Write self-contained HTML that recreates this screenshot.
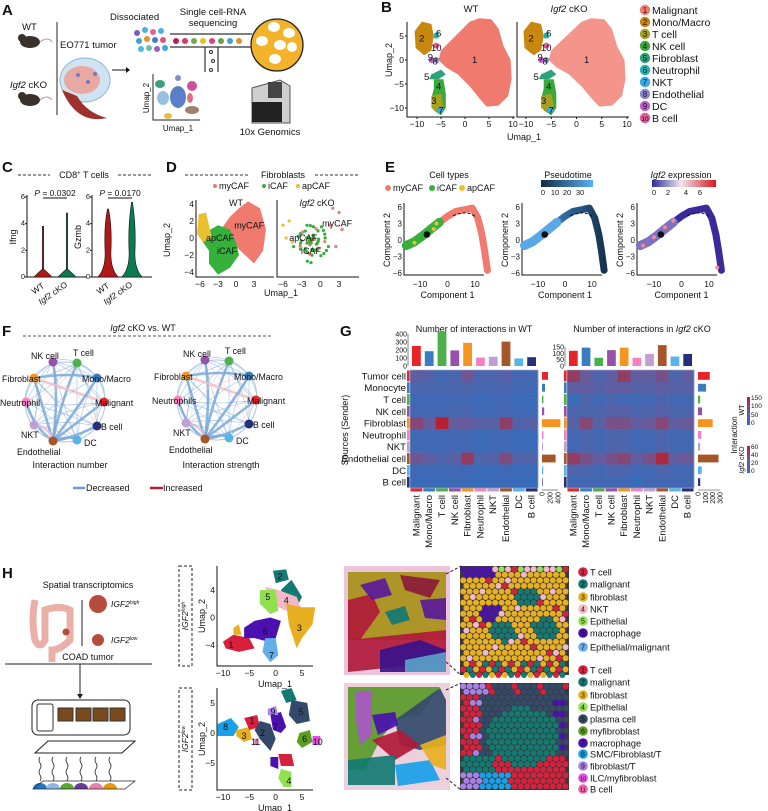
<!DOCTYPE html>
<html><head><meta charset="utf-8"><style>
html,body{margin:0;padding:0;background:#fff;}
svg{display:block;font-family:"Liberation Sans",Arial,sans-serif;}
text{fill:#111;}
</style></head><body>
<svg id="fig" width="768" height="811" viewBox="0 0 768 811">
<defs>
<linearGradient id="gPseudo" x1="0" x2="1"><stop offset="0" stop-color="#132b43"/><stop offset="1" stop-color="#56b1f7"/></linearGradient>
<linearGradient id="gExpr" x1="0" x2="1"><stop offset="0" stop-color="#2b2c9c"/><stop offset="0.45" stop-color="#f0e6ee"/><stop offset="1" stop-color="#d7191c"/></linearGradient>
<linearGradient id="gTraj2" x1="0" x2="1"><stop offset="0" stop-color="#5aa8e8"/><stop offset="0.5" stop-color="#2f6aa0"/><stop offset="1" stop-color="#16324e"/></linearGradient>
<linearGradient id="gHeatWT" x1="0" y1="1" x2="0" y2="0"><stop offset="0" stop-color="#2f6fbf"/><stop offset="0.5" stop-color="#6a5a9a"/><stop offset="1" stop-color="#b8202e"/></linearGradient>
</defs>

<!-- ============ PANEL A ============ -->
<g>
<text x="2" y="15" font-size="15" font-weight="bold">A</text>
<text x="22" y="30" font-size="9.5">WT</text>
<g><ellipse cx="30" cy="42" rx="10" ry="6" fill="#3a302c"/><circle cx="22" cy="38" r="4" fill="#3a302c"/><path d="M40 42 q8 -6 12 0" stroke="#c88" fill="none"/></g>
<text x="10" y="88" font-size="9.5"><tspan font-style="italic">Igf2</tspan> cKO</text>
<g><ellipse cx="30" cy="100" rx="10" ry="6" fill="#3a302c"/><circle cx="22" cy="96" r="4" fill="#3a302c"/><path d="M40 100 q8 -6 12 0" stroke="#c88" fill="none"/></g>
<line x1="57" y1="22" x2="57" y2="115" stroke="#222" stroke-width="1"/>
<text x="60" y="48" font-size="9.5">EO771 tumor</text>
<g>
<ellipse cx="85" cy="80" rx="25" ry="22" fill="#cfe3f0" stroke="#8fb8d8"/>
<ellipse cx="82" cy="80" rx="18" ry="14" fill="#e9a9a2"/>
<path d="M62 90 q15 35 45 28 q-20 -5 -30 -22z" fill="#a0302c"/>
<circle cx="78" cy="75" r="2" fill="#6a7ec8"/><circle cx="88" cy="82" r="2" fill="#6a7ec8"/><circle cx="95" cy="74" r="2" fill="#6a7ec8"/>
</g>
<path d="M112 70 H126" stroke="#111"/><path d="M126 67 L130 70 L126 73z" fill="#111"/>
<text x="110" y="20" font-size="9.5">Dissociated</text>
<g>
<circle cx="137" cy="33" r="3" fill="#7a5ac8"/><circle cx="145" cy="30" r="3" fill="#4ab0e0"/><circle cx="153" cy="32" r="3" fill="#e060a0"/><circle cx="161" cy="31" r="3" fill="#4ab0e0"/>
<circle cx="139" cy="41" r="3" fill="#40a0d0"/><circle cx="147" cy="39" r="3" fill="#f08a30"/><circle cx="155" cy="40" r="3" fill="#3d7fc0"/><circle cx="163" cy="40" r="3" fill="#e05080"/>
<circle cx="141" cy="49" r="3" fill="#50b8e8"/><circle cx="149" cy="48" r="3" fill="#6ac0a0"/><circle cx="157" cy="49" r="3" fill="#9a60c0"/><circle cx="165" cy="48" r="3" fill="#40a8d8"/>
</g>
<text x="213" y="15" font-size="9.5" text-anchor="middle">Single cell-RNA</text>
<text x="213" y="26" font-size="9.5" text-anchor="middle">sequencing</text>
<g>
<path d="M170 34 H252 M170 47 H218 V72 M205 47 V72 M218 47 H252" stroke="#333" stroke-width="1.2" fill="none"/>
<circle cx="277" cy="45" r="26" fill="#f2b32a" stroke="#222" stroke-width="1.3"/>
<circle cx="176" cy="41" r="3" fill="#b0205a"/><circle cx="185" cy="41" r="3" fill="#e0306a"/><circle cx="194" cy="41" r="3" fill="#7aa05a"/><circle cx="203" cy="41" r="3" fill="#e8c020"/><circle cx="212" cy="41" r="3" fill="#e04080"/><circle cx="221" cy="41" r="3" fill="#6aa040"/><circle cx="230" cy="41" r="3" fill="#40a0d0"/><circle cx="239" cy="41" r="3" fill="#e0902a"/>
<ellipse cx="274" cy="27" rx="6" ry="5" fill="#fff"/><ellipse cx="289" cy="33" rx="6" ry="5" fill="#fff"/><ellipse cx="262" cy="41" rx="6" ry="5" fill="#fff"/><ellipse cx="280" cy="45" rx="6" ry="5" fill="#fff"/><ellipse cx="292" cy="47" rx="5" ry="5" fill="#fff"/><ellipse cx="275" cy="59" rx="6" ry="5" fill="#fff"/>
<circle cx="211" cy="52" r="1.5" fill="none" stroke="#333"/><circle cx="213" cy="61" r="1.5" fill="none" stroke="#333"/><circle cx="211" cy="70" r="1.5" fill="none" stroke="#333"/>
</g>
<g>
<path d="M153 74 V120 H200" stroke="#222" fill="none"/>
<ellipse cx="160" cy="84" rx="5" ry="4" fill="#3aa080"/><ellipse cx="178" cy="78" rx="3" ry="3" fill="#8a8ac8"/><ellipse cx="192" cy="86" rx="5" ry="5" fill="#d050a0"/>
<ellipse cx="163" cy="98" rx="6" ry="7" fill="#9ac0e0"/><ellipse cx="178" cy="97" rx="8" ry="11" fill="#5a7ec8"/><ellipse cx="190" cy="98" rx="3" ry="5" fill="#e07080"/>
<ellipse cx="192" cy="110" rx="7" ry="4" fill="#a08070"/><ellipse cx="168" cy="116" rx="4" ry="3" fill="#e8c040"/>
<text x="149" y="98" font-size="8" transform="rotate(-90 149 98)" text-anchor="middle">Umap_2</text>
<text x="178" y="131" font-size="8" text-anchor="middle">Umap_1</text>
</g>
<g>
<path d="M252 88 L280 80 L290 86 L290 123 L252 123z" fill="#cfcfcf" stroke="#555"/>
<rect x="268" y="82" width="14" height="16" fill="#444"/><rect x="252" y="102" width="30" height="20" fill="#222"/>
</g>
<text x="270" y="135" font-size="9.5" text-anchor="middle">10x Genomics</text>
</g>

<!-- ============ PANEL B ============ -->
<g>
<text x="381" y="12" font-size="15" font-weight="bold">B</text>
<text x="471" y="12" font-size="9.5" text-anchor="middle">WT</text>
<text x="569" y="12" font-size="9.5" text-anchor="middle"><tspan font-style="italic">Igf2</tspan> cKO</text>
<text x="392" y="60" font-size="9" text-anchor="middle" transform="rotate(-90 392 60)">Umap_2</text>
<text x="524" y="140" font-size="9" text-anchor="middle">Umap_1</text>
<g id="bWT"></g>
<g id="bKO"></g>
<g id="bLegend"></g>
</g>

<!-- ============ PANEL C ============ -->
<g>
<text x="2" y="172" font-size="15" font-weight="bold">C</text>
<line x1="18" y1="175" x2="50" y2="175" stroke="#333" stroke-dasharray="3,2"/>
<line x1="118" y1="175" x2="152" y2="175" stroke="#333" stroke-dasharray="3,2"/>
<text x="84" y="178" font-size="9" text-anchor="middle">CD8<tspan font-size="6" dy="-3">+</tspan><tspan dy="3"> T cells</tspan></text>
<g id="violins"></g>
</g>

<!-- ============ PANEL D ============ -->
<g>
<text x="166" y="172" font-size="15" font-weight="bold">D</text>
<line x1="185" y1="175" x2="250" y2="175" stroke="#333" stroke-dasharray="3,2"/>
<line x1="315" y1="175" x2="358" y2="175" stroke="#333" stroke-dasharray="3,2"/>
<text x="283" y="178" font-size="9" text-anchor="middle">Fibroblasts</text>
<g font-size="9">
<circle cx="215" cy="186" r="2" fill="#f07a6e"/><text x="219" y="189">myCAF</text>
<circle cx="264" cy="186" r="2" fill="#35b03a"/><text x="268" y="189">iCAF</text>
<circle cx="298" cy="186" r="2" fill="#e8c030"/><text x="302" y="189">apCAF</text>
</g>
<text x="236" y="206" font-size="9" text-anchor="middle">WT</text>
<text x="317" y="206" font-size="9" text-anchor="middle"><tspan font-style="italic">Igf2</tspan> cKO</text>
<text x="170" y="240" font-size="9" text-anchor="middle" transform="rotate(-90 170 240)">Umap_2</text>
<text x="281" y="296" font-size="9" text-anchor="middle">Umap_1</text>
<g id="dPlots"></g>
</g>

<!-- ============ PANEL E ============ -->
<g>
<text x="385" y="172" font-size="15" font-weight="bold">E</text>
<text x="449" y="178" font-size="9" text-anchor="middle">Cell types</text>
<g font-size="9">
<circle cx="388" cy="188" r="3" fill="#f07a6e"/><text x="393" y="191">myCAF</text>
<circle cx="432" cy="188" r="3" fill="#35b03a"/><text x="437" y="191">iCAF</text>
<circle cx="462" cy="188" r="3" fill="#e8c030"/><text x="467" y="191">apCAF</text>
</g>
<text x="568" y="178" font-size="9" text-anchor="middle">Pseudotime</text>
<rect x="541" y="180" width="52" height="7" fill="url(#gPseudo)"/>
<g font-size="7.5" text-anchor="middle"><text x="543" y="195">0</text><text x="555" y="195">10</text><text x="567" y="195">20</text><text x="580" y="195">30</text></g>
<text x="681" y="178" font-size="9" text-anchor="middle"><tspan font-style="italic">Igf2</tspan> expression</text>
<rect x="652" y="180" width="64" height="7" fill="url(#gExpr)"/>
<g font-size="7.5" text-anchor="middle"><text x="654" y="195">0</text><text x="668" y="195">2</text><text x="686" y="195">4</text><text x="700" y="195">6</text></g>
<g id="ePlots"></g>
</g>

<!-- ============ PANEL F ============ -->
<g>
<text x="2" y="336" font-size="15" font-weight="bold">F</text>
<text x="143" y="331" font-size="9" text-anchor="middle"><tspan font-style="italic">Igf2</tspan> cKO vs. WT</text>
<line x1="23" y1="336" x2="273" y2="336" stroke="#777" stroke-width="1.2" stroke-dasharray="3,2"/>
<g id="networks"></g>
<text x="70" y="468" font-size="9" text-anchor="middle">Interaction number</text>
<text x="221" y="468" font-size="9" text-anchor="middle">Interaction strength</text>
<g>
<line x1="73" y1="488" x2="85" y2="488" stroke="#6a9ad0" stroke-width="2.5"/><text x="86" y="491" font-size="9">Decreased</text>
<line x1="150" y1="488" x2="163" y2="488" stroke="#b22030" stroke-width="2.5"/><text x="163" y="491" font-size="9">Increased</text>
</g>
</g>

<!-- ============ PANEL G ============ -->
<g>
<text x="340" y="336" font-size="15" font-weight="bold">G</text>
<text x="474" y="332" font-size="9" text-anchor="middle">Number of interactions in WT</text>
<text x="642" y="332" font-size="9" text-anchor="middle">Number of interactions in <tspan font-style="italic">Igf2</tspan> cKO</text>
<text x="348" y="430" font-size="9" text-anchor="middle" transform="rotate(-90 348 430)">Sources (Sender)</text>
<g id="heat"></g>
<g>
<rect x="747" y="397" width="3" height="28" fill="url(#gHeatWT)"/>
<rect x="747" y="446" width="3" height="27" fill="url(#gHeatWT)"/>
<g font-size="6.5"><text x="751" y="400">150</text><text x="751" y="408">100</text><text x="751" y="417">50</text><text x="751" y="425">0</text>
<text x="751" y="449">60</text><text x="751" y="457">40</text><text x="751" y="465">20</text><text x="751" y="473">0</text></g>
<text x="737" y="435" font-size="8" text-anchor="middle" transform="rotate(-90 737 435)">Interaction</text>
<text x="744" y="410" font-size="7" text-anchor="middle" transform="rotate(-90 744 410)">WT</text>
<text x="744" y="460" font-size="7" text-anchor="middle" transform="rotate(-90 744 460)"><tspan font-style="italic">Igf2</tspan> cKO</text>
</g>
</g>

<!-- ============ PANEL H ============ -->
<g>
<text x="2" y="578" font-size="15" font-weight="bold">H</text>
<text x="88" y="588" font-size="9" text-anchor="middle">Spatial transcriptomics</text>
<g>
<path d="M35 600 q-4 20 0 40 q5 10 10 0 l0 -30 q15 -5 25 0 l0 30 q-10 10 -18 10 v12" stroke="#eab0a8" stroke-width="7" fill="none"/>
<circle cx="66" cy="632" r="3.5" fill="#b84c3c"/>
</g>
<line x1="82" y1="600" x2="82" y2="646" stroke="#222"/>
<circle cx="98" cy="604" r="9" fill="#b84c3c"/>
<text x="111" y="607" font-size="8.5" font-style="italic">IGF2<tspan font-size="5" dy="-3">high</tspan></text>
<circle cx="98" cy="640" r="6" fill="#b84c3c"/>
<text x="111" y="643" font-size="8.5" font-style="italic">IGF2<tspan font-size="5" dy="-3">low</tspan></text>
<text x="88" y="660" font-size="9" text-anchor="middle">COAD tumor</text>
<line x1="5" y1="664" x2="152" y2="664" stroke="#222"/>
<line x1="80" y1="664" x2="80" y2="694" stroke="#222"/><path d="M77 694 L80 699 L83 694z" fill="#222"/>
<g>
<rect x="32" y="700" width="98" height="35" rx="6" fill="#fff" stroke="#222"/>
<rect x="37" y="704" width="16" height="27" rx="2" fill="#fff" stroke="#333"/>
<rect x="58" y="708" width="15" height="13" fill="#7a4a1c" stroke="#333"/><rect x="76" y="708" width="15" height="13" fill="#7a4a1c" stroke="#333"/><rect x="93" y="708" width="15" height="13" fill="#7a4a1c" stroke="#333"/><rect x="110" y="708" width="15" height="13" fill="#7a4a1c" stroke="#333"/>
<path d="M35 753 L48 741 L135 741 L122 753z" fill="#fff" stroke="#222"/>
</g>
<g id="probes"></g>
<g id="hUmaps"></g>
<g id="tissues"></g>
<g id="hLegend"></g>
</g>
</svg>

<script>
// ================= DATA =================
const bClusters = ["Malignant","Mono/Macro","T cell","NK cell","Fibroblast","Neutrophil","NKT","Endothelial","DC","B cell"];
const bColors = ["#f07a6e","#c8870e","#a8a020","#3aa83a","#2aa37a","#20b2b2","#35a8e8","#8a88d0","#c060c8","#e4589a"];
const umapXTicks = [-10,-5,0,5,10];
const umapYTicks = [5,0,-5,-10];

const violinGenes = ["Ifng","Gzmb"];
const violinGroups = ["WT","Igf2 cKO"];
const violinMax = [[3.8,4.8],[5.1,5.6]];
const violinPvals = ["0.0302","0.0170"];
const violinYTicks = [0,2,4,6];

const gCategories = ["Malignant","Mono/Macro","T cell","NK cell","Fibroblast","Neutrophil","NKT","Endothelial","DC","B cell"];
const gRows = ["Tumor cell","Monocyte","T cell","NK cell","Fibroblast","Neutrophil","NKT","Endothelial cell","DC","B cell"];
const gColors = ["#e8242a","#3a7cc0","#4db04a","#9850a8","#f7941d","#f781bf","#c0a0d0","#a65628","#56b4e9","#26307a"];
const wtTopBars = [250,185,430,195,290,105,115,305,95,110];
const koTopBars = [120,145,65,125,145,65,95,165,75,95];
const wtSideBars = [150,75,35,55,460,35,25,340,30,15];
const koSideBars = [160,110,30,55,200,45,30,280,50,30];
const wtTopTicks = [0,100,200,300,400];
const koTopTicks = [0,50,100,150];
const wtSideTicks = [0,200,400];
const koSideTicks = [0,100,200,300];
const wtMatrix = [
 [60,45,25,35,80,35,40,50,25,30],
 [35,35,30,35,40,30,30,35,25,25],
 [20,20,20,25,25,15,20,25,15,15],
 [25,25,25,30,35,20,25,30,20,20],
 [100,70,150,70,70,55,55,110,45,50],
 [20,25,20,25,25,15,20,25,15,15],
 [20,20,20,25,25,15,20,20,15,15],
 [80,60,40,55,115,40,45,95,40,45],
 [20,20,20,25,20,15,15,20,15,15],
 [15,15,15,20,15,10,15,15,10,10]];
const koMatrix = [
 [45,30,15,25,45,25,25,35,15,25],
 [25,25,20,25,25,20,20,25,20,20],
 [5,15,10,15,10,10,10,15,10,10],
 [15,15,15,20,20,15,15,20,15,15],
 [20,40,20,35,35,25,30,40,25,30],
 [10,15,10,15,15,10,10,15,10,10],
 [10,15,10,15,15,10,10,15,10,10],
 [45,35,25,35,40,25,35,55,25,30],
 [15,15,10,15,15,10,10,15,10,10],
 [10,10,10,10,10,5,10,10,10,10]];

const hTopLabels = ["T cell","malignant","fibroblast","NKT","Epithelial","macrophage","Epithelial/malignant"];
const hTopColors = ["#d81f3c","#127a72","#e8b020","#f4b8c8","#90e050","#4a10b0","#64aee8"];
const hBotLabels = ["T cell","malignant","fibroblast","Epithelial","plasma cell","myfibroblast","macrophage","SMC/Fibroblast/T","fibroblast/T","ILC/myfibroblast","B cell"];
const hBotColors = ["#d81f3c","#127a72","#e8b020","#90e050","#344a6a","#5aa020","#4a10b0","#18a0e8","#a880e8","#e050e0","#f060a8"];

// ================= helpers =================
const NS="http://www.w3.org/2000/svg";
function mk(parent,tag,attrs){const e=document.createElementNS(NS,tag);for(const k in attrs)e.setAttribute(k,attrs[k]);parent.appendChild(e);return e;}
function txt(parent,x,y,s,size,anchor,extra){const t=mk(parent,"text",Object.assign({x:x,y:y,"font-size":size,"text-anchor":anchor||"start"},extra||{}));t.textContent=s;return t;}
function lin(a0,a1,p0,p1){return v=>p0+(v-a0)*(p1-p0)/(a1-a0);}

// ================= B =================
function umapPlot(gId,left,xs,ys,cko){
  const g=document.getElementById(gId);
  mk(g,"path",{d:`M${left} 22 V117 H${xs(10)+2}`,stroke:"#111",fill:"none"});
  umapXTicks.forEach(t=>{mk(g,"line",{x1:xs(t),y1:117,x2:xs(t),y2:119,stroke:"#111"});txt(g,xs(t),127,t===-10?"\u221210":(t<0?"\u2212"+(-t):""+t),8.5,"middle");});
  if(!cko) umapYTicks.forEach(t=>{mk(g,"line",{x1:left-2,y1:ys(t),x2:left,y2:ys(t),stroke:"#111"});txt(g,left-3,ys(t)+3,t<0?"\u2212"+(-t):""+t,8.5,"end");});
  const P=(pts)=>pts.map((p,i)=>(i?"L":"M")+xs(p[0]).toFixed(1)+" "+ys(p[1]).toFixed(1)).join(" ")+"Z";
  const mal=mk(g,"path",{d:P([[-5,2],[-3,4],[-1,6],[1,8],[3,8.7],[5.5,8.5],[7,6.5],[8,3],[9.5,0],[9.7,-4],[9,-7.5],[7,-9.5],[4.5,-9.7],[3,-8],[1,-5.5],[-1.5,-3],[-4,-1.5],[-5.5,0]]),fill:"#f07a6e",opacity:cko?0.8:1});
  
  mk(g,"path",{d:P([[-10.5,6],[-9,8],[-7,7.5],[-6.5,5],[-7,2],[-8.5,1],[-10.3,2.5]]),fill:bColors[1]});
  mk(g,"path",{d:P([[-7,-3],[-5,-2],[-4,-3],[-5.5,-4],[-7.5,-4]]),fill:bColors[4]});
  mk(g,"path",{d:P([[-6.5,-4],[-4.5,-4],[-4,-7],[-4,-10],[-5,-11.5],[-6.5,-10.5],[-7,-8],[-6.5,-6]]),fill:bColors[3]});
  mk(g,"path",{d:P([[-7,-7.5],[-5,-7],[-4.5,-9.5],[-5.5,-11],[-7,-10]]),fill:bColors[2]});
  mk(g,"circle",{cx:xs(-5.2),cy:ys(-10.5),r:3,fill:bColors[6]});
  mk(g,"path",{d:P([[-6.5,5.5],[-5.5,6],[-5.5,4.5],[-6.5,4.5]]),fill:bColors[5]});
  mk(g,"circle",{cx:xs(-7),cy:ys(0),r:3,fill:bColors[8]});mk(g,"circle",{cx:xs(-6),cy:ys(0),r:3,fill:bColors[7]});
  mk(g,"circle",{cx:xs(-6),cy:ys(3),r:3,fill:bColors[9]});
  const lab=[["1",2,0],["2",-9,4.5],["6",-5.5,5.5],["10",-6,2.5],["9",-7.2,0.5],["8",-6.2,-0.3],["5",-8,-3.5],["4",-5.5,-5.5],["3",-6.5,-8.5],["7",-5,-10.5]];
  lab.forEach(l=>txt(g,xs(l[1]),ys(l[2])+3,l[0],9.5,"middle"));
}
umapPlot("bWT",407,lin(-10,10,417,513),lin(5,-10,36,108),false);
umapPlot("bKO",517,lin(-10,10,526,627),lin(5,-10,36,108),true);
(function(){const g=document.getElementById("bLegend");
 bClusters.forEach((c,i)=>{const y=10+i*12;
  const it=mk(g,"g",{});
  
  
  mk(it,"circle",{cx:645,cy:y,r:5.2,fill:bColors[i]});txt(it,645,y+3,""+(i+1),i===9?6.5:8,"middle");txt(it,652,y+4,c,10.5,"start");});})();

// ================= C =================
(function(){const g=document.getElementById("violins");
 const ys=lin(0,6,277,197);
 [27,92].forEach((left,gi)=>{
  mk(g,"path",{d:`M${left} 195 V277 H${left+60}`,stroke:"#111",fill:"none"});
  violinYTicks.forEach(t=>{mk(g,"line",{x1:left-2,y1:ys(t),x2:left,y2:ys(t),stroke:"#111"});txt(g,left-2,ys(t)+2,""+t,7.5,"end");});
  txt(g,left-11,237,violinGenes[gi],9,"middle",{transform:`rotate(-90 ${left-11} 237)`});
  const cxs=[left+16,left+40];
  const cols=["#b01818","#0e7a50"];
  cxs.forEach((cx,k)=>{
    const top=ys(violinMax[gi][k]);
    let d;
    if(gi===0){d=`M${cx-9} 277 Q${cx} 268 ${cx-0.6} 270 L${cx-0.6} ${top} L${cx+0.6} ${top} L${cx+0.6} 270 Q${cx} 268 ${cx+9} 277Z`;}
    else{d=`M${cx-10} 277 Q${cx-2} 268 ${cx-3} 250 Q${cx-4} 225 ${cx-0.5} ${top} L${cx+0.5} ${top} Q${cx+4} 225 ${cx+3} 250 Q${cx+2} 268 ${cx+10} 277Z`;}
    const v=mk(g,"path",{d:d,fill:cols[k],stroke:"#111","stroke-width":0.6});
    
    
  });
  txt(g,cxs[0]+2,287,"WT",8.5,"end",{transform:`rotate(-35 ${cxs[0]+2} 287)`});
  const t=mk(g,"text",{x:cxs[1]+1,y:286,"font-size":8.5,"text-anchor":"end",transform:`rotate(-35 ${cxs[1]+1} 286)`});
  t.innerHTML='<tspan font-style="italic">Igf2</tspan> cKO';
  mk(g,"line",{x1:cxs[0],y1:198,x2:cxs[1],y2:198,stroke:"#111"});
  const p=mk(g,"text",{x:(cxs[0]+cxs[1])/2,y:196,"font-size":8.5,"text-anchor":"middle"});p.innerHTML='<tspan font-style="italic">P</tspan> = '+violinPvals[gi];
 });})();

// ================= D =================
(function(){const g=document.getElementById("dPlots");
 const ys=lin(4,-4,204,272);
 [[196,lin(-6,3,200,254)],[277,lin(-6,3,283,339)]].forEach((pp,pi)=>{
  const [left,xs]=pp;
  mk(g,"path",{d:`M${left} 200 V277 H${left+(pi?82:78)}`,stroke:"#111",fill:"none"});
  [-6,-3,0,3].forEach(t=>txt(g,xs(t),287,t<0?"\u2212"+(-t):""+t,8.5,"middle"));
  if(!pi)[4,2,0,-2,-4].forEach(t=>txt(g,left-2,ys(t)+3,t<0?"\u2212"+(-t):""+t,8.5,"end"));
  const P=(pts)=>pts.map((p,i)=>(i?"L":"M")+xs(p[0]).toFixed(1)+" "+ys(p[1]).toFixed(1)).join(" ")+"Z";
  if(!pi){
   mk(g,"path",{d:P([[-2.5,1],[-1,2.5],[0.5,3.5],[2,4.3],[4,3.5],[5,1],[4.5,-1.5],[3,-3],[1.5,-2],[0,-1],[-2,-0.5]]),fill:"#f07a6e"});
   mk(g,"path",{d:P([[-5.5,0.5],[-3,1.5],[-1,1],[0,-0.5],[0.5,-2],[-1,-3.5],[-3,-4.3],[-4.5,-3],[-4.5,-1.5],[-5.5,-0.5]]),fill:"#35b03a"});
   mk(g,"path",{d:P([[-6.2,2.8],[-5,3],[-4.5,1.5],[-4,0],[-5.5,-0.5],[-6.5,0.5]]),fill:"#e8c030"});
  } else {
   for(let i=0;i<60;i++){const a=(i*137.5)%360*Math.PI/180,r=((i*7)%23)/23;
    mk(g,"circle",{cx:xs(-1.5+Math.cos(a)*3*r),cy:ys(-0.5+Math.sin(a)*2.5*r),r:1.6,fill:i%5===0?"#f07a6e":"#35b03a"});}
   [[-5,2],[-5.5,0],[-4.5,-0.5],[-6,1.5]].forEach(p=>mk(g,"circle",{cx:xs(p[0]),cy:ys(p[1]),r:1.6,fill:"#e8c030"}));
   [[2,3.5],[3,3],[1.5,1.5],[3.5,1],[2.5,-1]].forEach(p=>mk(g,"circle",{cx:xs(p[0]),cy:ys(p[1]),r:1.6,fill:"#f07a6e"}));
  }
  txt(g,xs(-5),ys(0)+3,"apCAF",9,"start");
  txt(g,xs(pi?-1.5:-1.5),ys(-1.5)+3,"iCAF",9,"middle");
  txt(g,xs(pi?2.7:2.2),ys(pi?1.7:1.5)+3,"myCAF",9,"middle");
 });})();

// ================= E =================
(function(){const g=document.getElementById("ePlots");
 const ys=lin(6,-6,207,273);
 const traj=[[-15,-1],[-12,-0.3],[-9,0.8],[-6,2],[-3,3.2],[0,4.3],[3,5.2],[6,5.5],[9,5.8],[11,4],[12.5,1],[13.5,-2],[14.5,-5.5]];
 [[404,lin(-10,10,420,475),0],[522,lin(-10,10,538,592),1],[637,lin(-10,10,654,709),2]].forEach(pp=>{
  const [left,xs,k]=pp;
  mk(g,"path",{d:`M${left} 203 V275 H${left+80}`,stroke:"#111",fill:"none"});
  [-10,0,10].forEach(t=>txt(g,xs(t),287,t<0?"\u221210":""+t,8.5,"middle"));
  [6,3,0,-3,-6].forEach(t=>txt(g,left-2,ys(t)+3,t<0?"\u2212"+(-t):""+t,8,"end"));
  txt(g,left-14,240,"Component 2",9,"middle",{transform:`rotate(-90 ${left-14} 240)`});
  txt(g,xs(0),298,"Component 1",9,"middle");
  const d=traj.map((p,i)=>(i?"L":"M")+xs(p[0]).toFixed(1)+" "+ys(p[1]).toFixed(1)).join(" ");
  const stroke=k===0?"#f07a6e":(k===1?"url(#gTraj2)":"#3a2a9a");
  mk(g,"path",{d:d,stroke:stroke,"stroke-width":7,fill:"none","stroke-linejoin":"round","stroke-linecap":"round"});
  const dl=traj.slice(0,5).map((p,i)=>(i?"L":"M")+xs(p[0]).toFixed(1)+" "+ys(p[1]).toFixed(1)).join(" ");
  mk(g,"path",{d:dl,stroke:k===0?"#35b03a":(k===1?"#5aa8e8":"#8070c0"),"stroke-width":9,fill:"none","stroke-linecap":"round"});
  if(k===0){[[-12,-0.5],[-8,1],[-5,2],[-4,3]].forEach(p=>mk(g,"circle",{cx:xs(p[0]),cy:ys(p[1]),r:2,fill:"#e8c030"}));}
  if(k===2){[[-14,-1],[-10,0.5],[-6,2.3],[-3,3.5],[13,-5]].forEach(p=>mk(g,"circle",{cx:xs(p[0]),cy:ys(p[1]),r:2,fill:"#f08a9a"}));}
  mk(g,"path",{d:`M${xs(2)} ${ys(4.4)} Q${xs(7)} ${ys(5.5)} ${xs(10)} ${ys(4.3)}`,stroke:"#111","stroke-dasharray":"3,2",fill:"none"});
  mk(g,"circle",{cx:xs(-7.5),cy:ys(1),r:3.3,fill:"#111"});
  txt(g,xs(-7.5),ys(1)+2,"1",5,"middle",{fill:"#fff"});
 });})();

// ================= F =================
(function(){const g=document.getElementById("networks");
 const names=[["NK cell","T cell","Fibroblast","Mono/Macro","Neutrophil","Malignant","NKT","B cell","Endothelial","DC"],
              ["NK cell","T cell","Fibroblast","Mono/Macro","Neutrophils","Malignant","NKT","B cell","Endothelial","DC"]];
 const cols=["#9850a8","#4db04a","#f7941d","#3a7cc0","#f781bf","#e8242a","#c0a0d0","#26307a","#a65628","#56b4e9"];
 const pos=[[53,362],[77,363],[34,378],[97,378],[26,402],[104,402],[34,425],[97,426],[53,441],[77,440]];
 const lab=[[-22,-3,"start"],[-4,-7,"start"],[-32,4,"start"],[-15,4,"start"],[-26,4,"start"],[-9,4,"start"],[-13,13,"start"],[4,4,"start"],[-36,14,"start"],[7,6,"start"]];
 [0,152].forEach((dx,ni)=>{
  const dy=ni?-2:0;
  const P=pos.map(p=>[p[0]+dx,p[1]+dy]);
  for(let i=0;i<10;i++)for(let j=i+1;j<10;j++){
    const heavy=(i===2||j===2||i===8||j===8)&&(i===5||j===5||i===8||j===8||i===2&&j===3);
    mk(g,"path",{d:`M${P[i][0]} ${P[i][1]} Q${(P[i][0]+P[j][0])/2+((i+j)%3-1)*6} ${(P[i][1]+P[j][1])/2+((i*j)%3-1)*6} ${P[j][0]} ${P[j][1]}`,stroke:(i+j)%7===0?"#f0c0c8":"#7aa8d8","stroke-width":heavy?2.6:0.7,fill:"none",opacity:heavy?0.85:0.6});
  }
  mk(g,"circle",{cx:dx+65,cy:402+dy,r:40,fill:"none",stroke:"#a8c4e4","stroke-width":1});
  P.forEach((p,i)=>{
    const n=mk(g,"circle",{cx:p[0],cy:p[1],r:4.5,fill:cols[i]});
    
    
    txt(g,p[0]+lab[i][0],p[1]+lab[i][1],names[ni][i],8.8,lab[i][2]);
  });
 });})();

// ================= G =================
function heatColor(v,max){
  const t=Math.max(0,Math.min(1,v/max));
  const stops=[[47,111,191],[106,90,154],[184,32,46]];
  const a=t<0.5?stops[0]:stops[1],b=t<0.5?stops[1]:stops[2],u=t<0.5?t*2:(t-0.5)*2;
  return `rgb(${Math.round(a[0]+(b[0]-a[0])*u)},${Math.round(a[1]+(b[1]-a[1])*u)},${Math.round(a[2]+(b[2]-a[2])*u)})`;
}
(function(){const g=document.getElementById("heat");
 const panels=[{x0:410,x1:538,mat:wtMatrix,max:150,top:wtTopBars,topMax:400,topPx:32,topTicks:wtTopTicks,side:wtSideBars,sideMax:400,sidePx:16,sideTicks:wtSideTicks,id:"wt"},
               {x0:567,x1:694,mat:koMatrix,max:60,top:koTopBars,topMax:150,topPx:19,topTicks:koTopTicks,side:koSideBars,sideMax:300,sidePx:22,sideTicks:koSideTicks,id:"cko"}];
 const y0=370,y1=488,base=366;
 panels.forEach((p,pi)=>{
  const cw=(p.x1-p.x0)/10,rh=(y1-y0)/10;
  const topY=v=>base-v/p.topMax*p.topPx;
  mk(g,"line",{x1:p.x0-2,y1:base,x2:p.x0-2,y2:topY(p.topMax),stroke:"#333","stroke-width":0.6});
  p.topTicks.forEach(t=>{txt(g,p.x0-3,topY(t)+2.5,""+t,7,"end");});
  p.top.forEach((v,i)=>{const r=mk(g,"rect",{x:p.x0+i*cw+2,y:topY(v),width:cw-4,height:base-topY(v),fill:gColors[i]});
   
   });
  p.mat.forEach((row,ri)=>row.forEach((v,ci)=>{
   const c=mk(g,"rect",{x:p.x0+ci*cw,y:y0+ri*rh,width:cw+0.3,height:rh+0.3,fill:heatColor(v,p.max)});
   
   
  }));
  mk(g,"rect",{x:p.x0,y:y0,width:p.x1-p.x0,height:y1-y0,fill:"none",stroke:"#aab","stroke-width":0.6});
  gRows.forEach((r,ri)=>{mk(g,"rect",{x:p.x0-3,y:y0+ri*rh+0.5,width:2.5,height:rh-1,fill:gColors[ri]});
   if(pi===0)txt(g,p.x0-4,y0+ri*rh+rh/2+3.5,r,9.6,"end");});
  gCategories.forEach((c,ci)=>{mk(g,"rect",{x:p.x0+ci*cw+0.5,y:y1+0.5,width:cw-1,height:3,fill:gColors[ci]});
   const cx=p.x0+ci*cw+cw/2+3;
   txt(g,cx,y1+7,c,9.5,"end",{transform:`rotate(-90 ${cx} ${y1+7})`});});
  const sx=p.x1+4;
  const sideX=v=>sx+v/p.sideMax*p.sidePx;
  p.side.forEach((v,ri)=>{const r=mk(g,"rect",{x:sx,y:y0+ri*rh+2,width:sideX(v)-sx,height:rh-4,fill:gColors[ri]});
   
   });
  mk(g,"line",{x1:sx,y1:y1+2,x2:sideX(p.sideMax),y2:y1+2,stroke:"#333","stroke-width":0.6});
  p.sideTicks.forEach(t=>{const x=sideX(t)+2.5;txt(g,x,y1+4,""+t,7,"end",{transform:`rotate(-90 ${x} ${y1+4})`});});
 });})();

// ================= H =================
(function(){const g=document.getElementById("probes");
 const c=["#1f78c8","#8ab8e8","#5aa830","#6a3a98","#e880a8","#e89810"];
 [40,53,67,81,96,110].forEach((x,i)=>{
  mk(g,"path",{d:`M${x} 781 q2 -3 0 -6 q-2 -3 0 -6 q2 -3 0 -6 q-2 -3 0 -6`,stroke:"#222",fill:"none","stroke-width":0.8});
  mk(g,"path",{d:`M${x-7} 789 a7 6 0 0 1 14 0z`,fill:c[i]});
 });
 mk(g,"path",{d:"M33 789 L43 781 L135 781 L125 789z",fill:"none",stroke:"#222","stroke-width":0.7});
})();
(function(){const g=document.getElementById("hUmaps");
 function axes(top,bottom,yTicks,ys,lab){
  mk(g,"rect",{x:179,y:top,width:13,height:bottom-top,fill:"none",stroke:"#222","stroke-dasharray":"3,2"});
  const t=mk(g,"text",{x:188,y:(top+bottom)/2,"font-size":8.5,"text-anchor":"middle","font-style":"italic",transform:`rotate(-90 188 ${(top+bottom)/2})`});
  t.innerHTML='IGF2<tspan font-size="5" dy="-3">'+lab+'</tspan>';
  mk(g,"path",{d:`M217 ${top} V${bottom} H313`,stroke:"#111",fill:"none"});
  const xs=lin(-10,5,223,302);
  [-10,-5,0,5].forEach(v=>txt(g,xs(v),bottom+10,v<0?"\u2212"+(-v):""+v,8.5,"middle"));
  yTicks.forEach(v=>txt(g,215,ys(v)+3,v<0?"\u2212"+(-v):""+v,8.5,"end"));
  txt(g,205,(top+bottom)/2,"Umap_2",9,"middle",{transform:`rotate(-90 205 ${(top+bottom)/2})`});
  txt(g,275,bottom+21,"Umap_1",9,"middle");
  return xs;
 }
 let xs=axes(566,666,[4,0,-4],lin(4,-4,590,645),"high");let ys=lin(4,-4,590,645);
 const P=(pts)=>pts.map((p,i)=>(i?"L":"M")+xs(p[0]).toFixed(1)+" "+ys(p[1]).toFixed(1)).join(" ")+"Z";
 const top=[[1,[[1,4],[3,5.5],[5,3],[4,1.5],[2,2]]],[0,[[-10,-3.5],[-8,-2.5],[-5,-3],[-4,-4.5],[-7,-5],[-9.5,-4.5]]],[3,[[-2,4.5],[0.5,4],[4,3],[5,1],[2,1],[-1,2]]],[4,[[-3,4],[0,4],[0.5,1],[-1,0.5],[-3,2]]],[2,[[2,2],[5,1.5],[7.5,1.5],[7,-1],[5,-3],[4,-4.5],[2.5,-1]]],[5,[[-6,-1.5],[-4,-0.5],[-1,0],[1,-0.5],[0,-3],[-1.5,-3.5],[-4,-3],[-6,-3]]],[6,[[-2,-3],[0,-3],[0.5,-5.5],[-1,-6.5],[-2.5,-5]]],[1,[[0,6.5],[1.5,7],[2,5.5],[0,5]]],[2,[[-8,-1.5],[-7,-1],[-6.5,-2.5],[-8,-2.5]]]];
 const topOrder=[[1,[[-0.5,6.8],[2,7],[2.5,5.5],[0,5]]]];
 top.concat(topOrder).forEach(s=>mk(g,"path",{d:P(s[1]),fill:hTopColors[s[0]]}));
 [["2",0.8,6],["5",-1.5,3],["4",2,2.5],["3",4.5,-1.5],["6",-2,-2],["1",-8.5,-4],["7",-0.8,-5.5]].forEach(l=>txt(g,xs(l[1]),ys(l[2])+3,l[0],9,"middle"));
 xs=axes(688,790,[5,0,-5],lin(5,-5,703,763),"low");ys=lin(5,-5,703,763);
 const bot=[[1,[[1,7],[3,7.5],[4,5.5],[2,5]]],[4,[[3,5.5],[6,5],[6.5,2],[4,1.5],[2.5,3]]],[7,[[-11,1.5],[-8.5,2.5],[-7,1],[-8,-0.5],[-11,-0.5]]],[2,[[-7.5,0.5],[-5,1],[-4.5,-1],[-6,-1.5],[-7.5,-0.5]]],[0,[[-6,2.5],[-3.5,3],[-3,1],[-5,0.5]]],[4,[[-3,2],[-1,1.5],[0,-1],[-1,-3],[-3,-1],[-4,0.5]]],[6,[[-1,3],[1,3.5],[2,1],[1,0],[-0.5,0.5]]],[8,[[-1.5,4],[0,4.5],[0.5,3],[-1.5,3]]],[5,[[4.5,0],[6.5,0.5],[7,-1.5],[5,-2.5],[4,-1.5]]],[9,[[7,-0.5],[8.5,-0.5],[8.5,-2],[7,-2]]],[0,[[0.5,-3.5],[3,-3.5],[3.5,-5.5],[1,-5.5]]],[6,[[-1,-4],[0.5,-4],[0.5,-6],[-1,-5.5]]],[3,[[1,-6],[3,-6.5],[3,-9],[1.5,-9],[0.5,-7.5]]],[10,[[-4,-1],[-3.5,-1],[-3.5,-2],[-4,-2]]]];
 bot.forEach(s=>mk(g,"path",{d:P(s[1]),fill:hBotColors[s[0]]}));
 [["8",-9.5,1],["1",-4.5,2],["9",-0.5,3.5],["7",0,1],["5",4.8,3.5],["3",-6,-0.5],["2",-2.5,0],["11",-3.8,-1.5],["6",5.5,-1],["10",8,-1.5],["4",2.5,-8]].forEach(l=>txt(g,xs(l[1]),ys(l[2])+3,l[0],9,"middle"));
})();
(function(){const g=document.getElementById("tissues");
 mk(g,"rect",{x:344,y:566,width:106,height:109,fill:"#ecc4dc"});
 const tt=[["#a89018",[[348,572],[446,572],[446,640],[348,640]]],["#b01a3a",[[348,600],[372,594],[380,612],[360,640],[348,640]]],["#5a1a9a",[[360,585],[385,578],[392,595],[372,600]]],["#127a72",[[385,612],[405,606],[410,620],[392,625]]],["#b01a3a",[[348,640],[446,630],[446,662],[348,672]]],["#3a128a",[[380,650],[420,640],[446,650],[446,672],[380,672]]],["#5aa0c8",[[405,660],[446,652],[446,672],[405,672]]],["#8a1a3a",[[400,575],[440,580],[430,598],[405,590]]],["#5a1a9a",[[420,600],[446,598],[446,620],[425,618]]]];
 tt.forEach(s=>mk(g,"path",{d:"M"+s[1].map(p=>p.join(" ")).join(" L")+"Z",fill:s[0],opacity:0.92}));
 mk(g,"rect",{x:344,y:683,width:106,height:107,fill:"#ecd0dc"});
 const tb=[["#5a9a28",[[348,687],[440,687],[420,715],[395,720],[380,740],[365,770],[348,770]]],["#a858c8",[[356,692],[372,690],[372,735],[360,745],[356,720]]],["#344a6a",[[395,720],[440,688],[446,700],[446,745],[420,750],[400,745]]],["#b01a3a",[[372,740],[400,730],[420,745],[395,760]]],["#127a72",[[348,760],[395,755],[395,785],[348,785]]],["#18a0e8",[[395,765],[430,760],[440,780],[398,786]]],["#e8b020",[[420,745],[446,735],[446,770],[432,765]]],["#4a10b0",[[372,715],[395,712],[398,725],[378,735]]]];
 tb.forEach(s=>mk(g,"path",{d:"M"+s[1].map(p=>p.join(" ")).join(" L")+"Z",fill:s[0],opacity:0.92}));
 mk(g,"path",{d:"M446 574 L461 566 M446 662 L461 675 M446 690 L461 683 M446 778 L461 790",stroke:"#222","stroke-dasharray":"3,2"});
 function tile(x0,y0,w,h,colorFn){
  mk(g,"rect",{x:x0,y:y0,width:w,height:h,fill:"#3a3a3a"});
  const s=6.4;
  for(let r=0;r*s*0.87<h-2;r++)for(let c=0;c*s<w-2;c++){
   const cx=x0+3.2+c*s+(r%2?s/2:0),cy=y0+3.2+r*s*0.87;
   if(cx>x0+w-2)continue;
   mk(g,"circle",{cx:cx,cy:cy,r:3,fill:colorFn((cx-x0)/w,(cy-y0)/h,r,c)});
  }
 }
 const T=hTopColors,B=hBotColors;
 tile(460,566,109,109,(u,v,r,c)=>{
  if(v<0.12&&u<0.3)return T[5];
  if(v<0.08)return (c%3===0)?T[4]:((c+r)%4===0?T[0]:T[3]);
  if(Math.hypot(u-0.62,(v-0.28)*1.3)<0.12)return T[1];
  if(Math.hypot(u-0.4,(v-0.6)*1.2)<0.12)return T[1];
  if(Math.hypot(u-0.78,(v-0.58)*1.2)<0.12)return T[1];
  if(Math.hypot(u-0.28,(v-0.43)*1.5)<0.1)return T[5];
  if(v>0.88)return (c+r)%3===0?T[0]:((c%2)?T[1]:T[2]);
  if((c*7+r*3)%11===0)return T[3];
  if((c*5+r*7)%17===0)return T[0];
  return T[2];
 });
 tile(460,683,109,107,(u,v,r,c)=>{
  if(Math.hypot((u-0.58)*0.9,(v-0.5)*1.1)<0.3)return B[1];
  if(v<0.12)return u<0.25?B[8]:((c%4===0)?B[0]:B[4]);
  if(v>0.85)return u<0.2?B[8]:(u<0.45?B[7]:B[0]);
  if(v>0.7)return u<0.3?B[1]:B[0];
  if(u<0.1)return B[0];
  if(u<0.2)return (r%3===0)?B[8]:B[0];
  if(u>0.88)return (r%2)?B[6]:B[4];
  return B[4];
 });
})();
(function(){const g=document.getElementById("hLegend");
 const topYs=[572,584,597,609,621,633,647];
 hTopLabels.forEach((l,i)=>{const it=mk(g,"g",{});
  
  
  mk(it,"circle",{cx:583,cy:topYs[i],r:4.8,fill:hTopColors[i]});txt(it,583,topYs[i]+2.5,""+(i+1),7,"middle");txt(it,590,topYs[i]+3.5,l,9.2,"start");});
 const botYs=[670,682,695,707,719,731,743,754,766,778,789];
 hBotLabels.forEach((l,i)=>{const it=mk(g,"g",{});
  
  
  mk(it,"circle",{cx:583,cy:botYs[i],r:4.8,fill:hBotColors[i]});txt(it,583,botYs[i]+2.5,""+(i+1),i>8?5.5:7,"middle");txt(it,590,botYs[i]+3.5,l,9.2,"start");});
})();
</script>
</body></html>
